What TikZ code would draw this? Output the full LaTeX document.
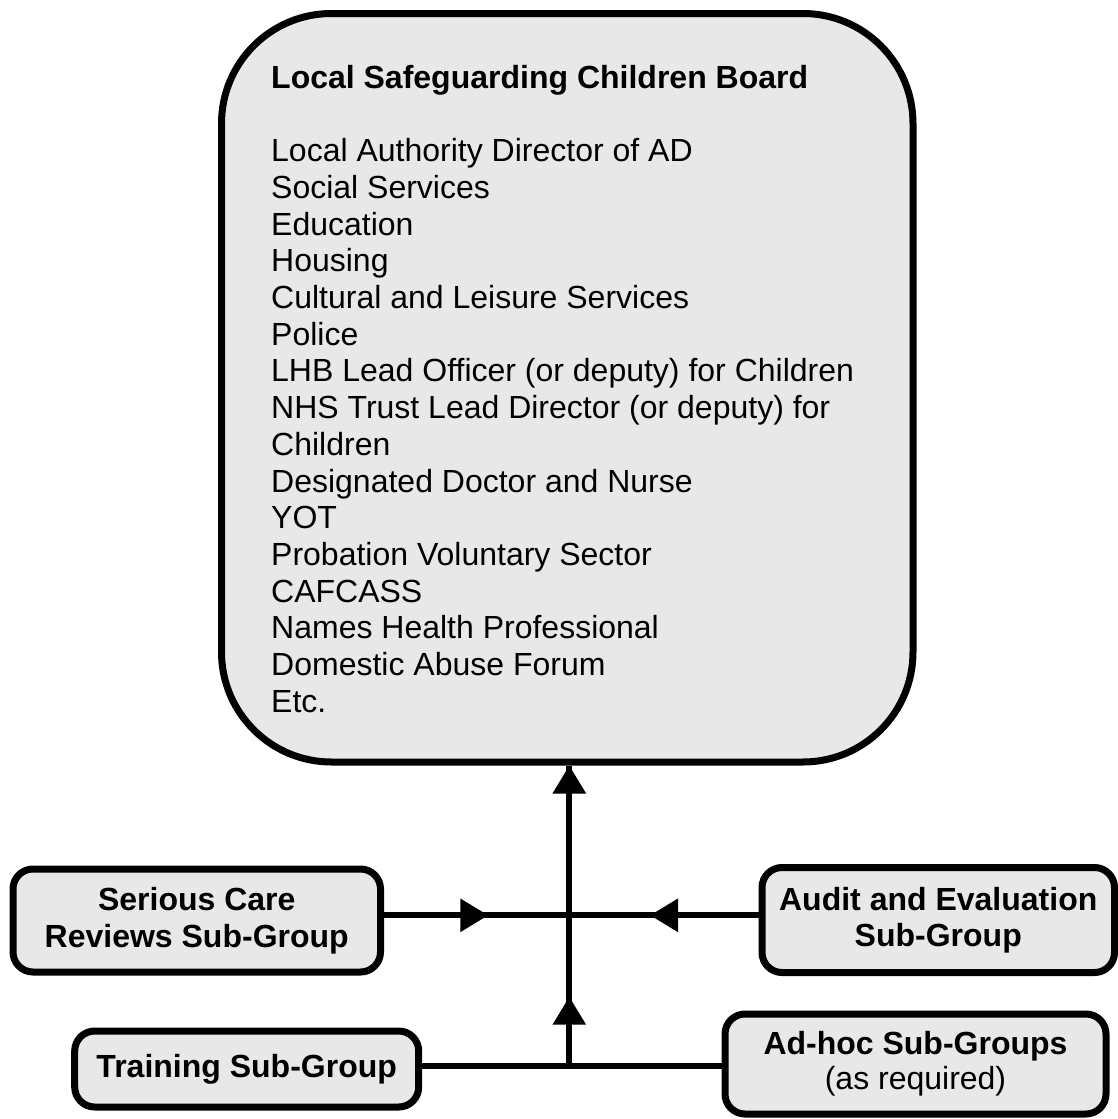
\documentclass[tikz,border=0pt]{standalone}
\usepackage{fontspec}
\setmainfont{Liberation Sans}
\usetikzlibrary{arrows.meta}
\definecolor{boxfill}{RGB}{232,232,232}
\begin{document}
\begin{tikzpicture}[x=1pt,y=-1pt,
  box/.style={draw=black, line width=7pt, fill=boxfill, rounded corners=20pt,
    inner sep=0pt, align=center, font=\fontsize{32pt}{36.5pt}\selectfont\bfseries},
  bigbox/.style={draw=black, line width=7pt, fill=boxfill, rounded corners=110pt, inner sep=0pt},
  listtext/.style={anchor=base west, inner sep=0pt, font=\fontsize{32pt}{36.7pt}\selectfont},
  conn/.style={line width=6pt, draw=black},
  tip/.style={-{Triangle[length=28pt,width=32pt]}}]
\useasboundingbox (0,0) rectangle (1118,1119);

% main board
\node[bigbox, minimum width=691.5pt, minimum height=748.5pt] (board) at (567.25,387.75) {};
\node[listtext, font=\fontsize{32pt}{36.7pt}\selectfont\bfseries] (title) at (271,88) {Local Safeguarding Children Board};
\foreach [count=\i] \t in {{Local Authority Director of AD},{Social Services},{Education},{Housing},
  {Cultural and Leisure Services},{Police},{LHB Lead Officer (or deputy) for Children},
  {NHS Trust Lead Director (or deputy) for},{Children},{Designated Doctor and Nurse},{YOT},
  {Probation Voluntary Sector},{CAFCASS},{Names Health Professional},{Domestic Abuse Forum},{Etc.}}
  \node[listtext] (m\i) at (271,{161.7+36.7*(\i-1)}) {\t};

% sub-groups
\node[box, minimum width=367.5pt, minimum height=103pt] (serious) at (196.75,920.5) {Serious Care\\Reviews Sub-Group};
\node[box, minimum width=352.5pt, minimum height=105pt] (audit) at (938.25,920) {Audit and Evaluation\\Sub-Group};
\node[box, minimum width=344pt, minimum height=76pt] (train) at (246.7,1069) {Training Sub-Group};
\node[box, minimum width=381pt, minimum height=100pt, font=\fontsize{32pt}{35pt}\selectfont\bfseries] (adhoc) at (915.5,1064) {Ad-hoc Sub-Groups\\\mdseries (as required)};

% junctions and arrow tips
\coordinate (j1) at (569.3,915.3);
\coordinate (j2) at (569.3,1066);
\coordinate (a1) at (488.3,915.3);
\coordinate (a2) at (650,915.3);
\coordinate (a3) at (569.3,996.7);

% connector lines
\draw[conn] (train.east |- j2) -- (adhoc.west |- j2);
\draw[conn] (j2) -- (board.south -| j2);
\draw[conn] (serious.east |- j1) -- (audit.west |- j1);

% arrowheads
\draw[conn, tip] (j2) -- (a3);
\draw[conn, tip] (a3) -- (board.south -| j2);
\draw[conn, tip] (serious.east |- j1) -- (a1);
\draw[conn, tip] (audit.west |- j1) -- (a2);
\end{tikzpicture}
\end{document}
